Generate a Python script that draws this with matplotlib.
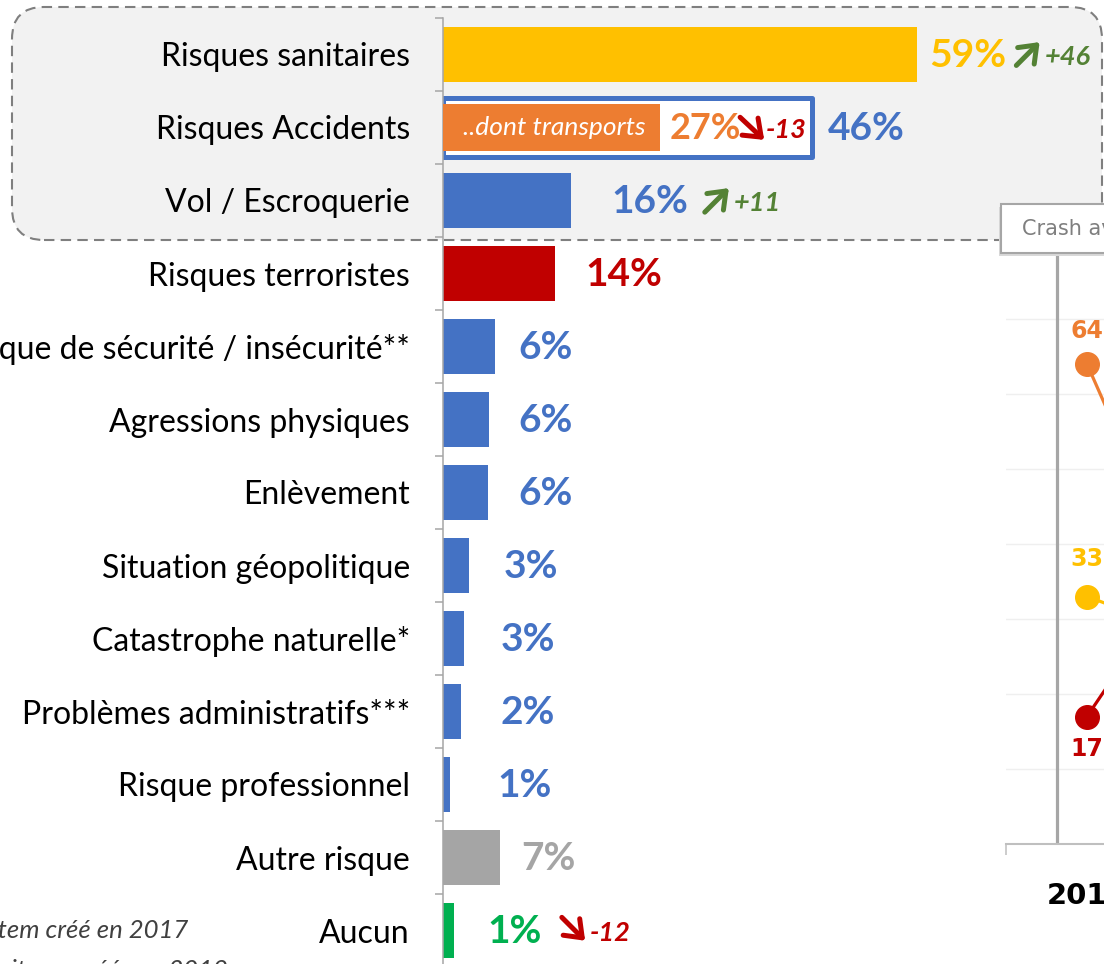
import numpy as np
import matplotlib.pyplot as plt
from matplotlib.patches import FancyBboxPatch, Rectangle
from matplotlib.transforms import IdentityTransform

W, H = 1104, 964
fig = plt.figure(figsize=(W / 100, H / 100), dpi=100)

# données du graphique principal
categories = ['Risques sanitaires', 'Risques Accidents', 'Vol / Escroquerie',
              'Risques terroristes', 'Politique de sécurité / insécurité**',
              'Agressions physiques', 'Enlèvement', 'Situation géopolitique',
              'Catastrophe naturelle*', 'Problèmes administratifs***',
              'Risque professionnel', 'Autre risque', 'Aucun']
values = [59, 46, 16, 14, 6.5, 5.7, 5.6, 3.2, 2.6, 2.2, 0.9, 7.1, 1.4]
value_labels = ['59%', '46%', '16%', '14%', '6%', '6%', '6%', '3%', '3%', '2%', '1%', '7%', '1%']
transports = 27
transports_label = '27%'
evo_rows = [0, 1, 2, 12]
evo_labels = ['+46', '-13', '+11', '-12']

# données de la courbe (à droite, coupée)
years = ['2019', '2020']
serie_orange = [64, 15]
serie_jaune = [33, 25]
serie_rouge = [17, 49]

# couleurs
BLEU = '#4472C4'
JAUNE = '#FFC000'
ORANGE = '#ED7D31'
ROUGE = '#C00000'
GRIS = '#A5A5A5'
VERT = '#00B050'
VERT_F = '#548235'
bar_colors = [JAUNE, 'white', BLEU, ROUGE, BLEU, BLEU, BLEU, BLEU, BLEU, BLEU, BLEU, GRIS, VERT]
label_colors = [JAUNE, BLEU, BLEU, ROUGE, BLEU, BLEU, BLEU, BLEU, BLEU, BLEU, BLEU, GRIS, VERT]
label_x = [60.6, 47.9, 21.0, 17.7, 9.4, 9.4, 9.4, 7.5, 7.2, 7.2, 6.8, 9.7, 5.5]
evo_colors = [VERT_F, ROUGE, VERT_F, ROUGE]
evo_arrow = [((71.4, 0.15), (74.3, -0.17)), ((37.0, -0.14), (40.0, 0.17)),
             ((32.6, 0.16), (35.6, -0.17)), ((14.8, -0.18), (17.7, 0.14))]
evo_x = [75.0, 40.2, 36.2, 18.3]

PX = 8.03  # pixels par point de %

# cadre gris arrondi en pointillés
cadre = FancyBboxPatch((12, H - 240), 1090, 233, boxstyle='round,pad=0,rounding_size=32',
                       transform=IdentityTransform(), fc='#F2F2F2', ec='#7F7F7F',
                       lw=1.5, ls=(0, (5, 3)), zorder=-1)
fig.add_artist(cadre)

ax = fig.add_axes([443 / W, (H - 967) / H, (W - 443) / W, 949 / H])
ax.set_facecolor('none')
ypos = np.arange(len(categories))
bars = ax.barh(ypos, values, height=0.74, color=bar_colors, zorder=2)
bars[1].set_height(0.8)
bars[1].set_y(1 - 0.4)
bars[1].set_edgecolor(BLEU)
bars[1].set_linewidth(3.6)
bars[1].set_joinstyle('round')
ax.barh(1, transports, height=0.64, color=ORANGE, zorder=3)
ax.text(transports / 2 + 0.3, 1, '..dont transports', color='white', style='italic',
        fontsize=19, family='Lato', ha='center', va='center', zorder=4)
ax.text(28.2, 1.02, transports_label, color=ORANGE, fontsize=26, fontweight='bold',
        family='Lato', ha='left', va='center', zorder=4)

for i, lab in enumerate(value_labels):
    ax.text(label_x[i], i + 0.02, lab, color=label_colors[i], fontsize=28,
            fontweight='bold', family='Lato', ha='left', va='center', zorder=4)

for k, r in enumerate(evo_rows):
    (x0, dy0), (x1, dy1) = evo_arrow[k]
    ax.annotate('', xy=(x1, r + dy1), xytext=(x0, r + dy0),
                arrowprops=dict(arrowstyle='->,head_length=0.55,head_width=0.42',
                                lw=3.6, color=evo_colors[k], mutation_scale=20,
                                shrinkA=0, shrinkB=0), zorder=4)
    ax.text(evo_x[k], r + 0.04, evo_labels[k], color=evo_colors[k], fontsize=19.5,
            fontweight='bold', style='italic', family='Lato', ha='left', va='center', zorder=4)

ax.set_xlim(0, (W - 443) / PX)
ax.set_ylim(len(categories) - 0.5, -0.5)
ax.set_yticks(ypos)
ax.set_yticklabels(categories, fontsize=23, family='Lato', color='black')
ax.set_yticks(np.arange(-0.5, len(categories), 1), minor=True)
ax.tick_params(axis='y', which='major', length=0, pad=23.8)
ax.tick_params(axis='y', which='minor', length=5.8, width=1.1, color='#A6A6A6')
ax.set_xticks([])
for s in ['top', 'right', 'bottom']:
    ax.spines[s].set_visible(False)
ax.spines['left'].set_color('#A6A6A6')
ax.spines['left'].set_linewidth(1.1)

# notes de bas de page
fig.text(188 / W, 1 - 931 / H, '* Nouvel item créé en 2017', ha='right', va='center',
         fontsize=18.5, style='italic', family='Lato', color='#404040')
fig.text(228 / W, 1 - 970 / H, '** Nouveaux items créés en 2019', ha='right', va='center',
         fontsize=18.5, style='italic', family='Lato', color='#404040')

# courbe de droite
ax2 = fig.add_axes([1006 / W, (H - 844) / H, 324 / W, 600 / H])
ax2.set_facecolor('none')
xs = np.arange(len(years))
for v, c, off in [(serie_orange, ORANGE, 33), (serie_jaune, JAUNE, 37), (serie_rouge, ROUGE, -32)]:
    ax2.plot(xs, v, color=c, lw=2.3, marker='o', markersize=17, zorder=3)
    for xi, vi in zip(xs, v):
        ax2.annotate(str(vi), (xi, vi), xytext=(0, off * 0.72), textcoords='offset points',
                     ha='center', va='center', color=c, fontsize=17, fontweight='bold',
                     family='DejaVu Sans', zorder=4)
ax2.axvline(-30 / 162, ymin=0, ymax=(844 - 257) / 600, color='#A6A6A6', lw=2.3, zorder=2)
ax2.set_xlim(-0.5, len(years) - 0.5)
ax2.set_ylim(0, 80)
ax2.set_yticks(np.arange(10, 81, 10))
ax2.grid(axis='y', color='#EFEFEF', lw=1)
ax2.tick_params(axis='y', length=0, labelleft=False)
ax2.set_xticks(xs)
ax2.set_xticklabels(years, fontsize=21, fontweight='bold', family='DejaVu Sans')
ax2.set_xticks(np.arange(-0.5, len(years), 1), minor=True)
ax2.tick_params(axis='x', which='major', length=0, pad=27)
ax2.tick_params(axis='x', which='minor', length=8, width=1.1, color='#BFBFBF')
for s in ['top', 'right', 'left']:
    ax2.spines[s].set_visible(False)
ax2.spines['bottom'].set_color('#BFBFBF')
ax2.spines['bottom'].set_linewidth(1.5)

# encart "Crash avion"
fig.add_artist(Rectangle((999, H - 256), 200, 49, transform=IdentityTransform(),
                         fc='#D9D9D9', ec='none', zorder=5))
fig.add_artist(Rectangle((1001, H - 253), 200, 49, transform=IdentityTransform(),
                         fc='white', ec='#A6A6A6', lw=1.5, zorder=6))
fig.text(1022 / W, 1 - 229 / H, 'Crash avion', ha='left', va='center', fontsize=15,
         family='DejaVu Sans', color='#7F7F7F', zorder=7)

fig.savefig('out.png', dpi=100)
